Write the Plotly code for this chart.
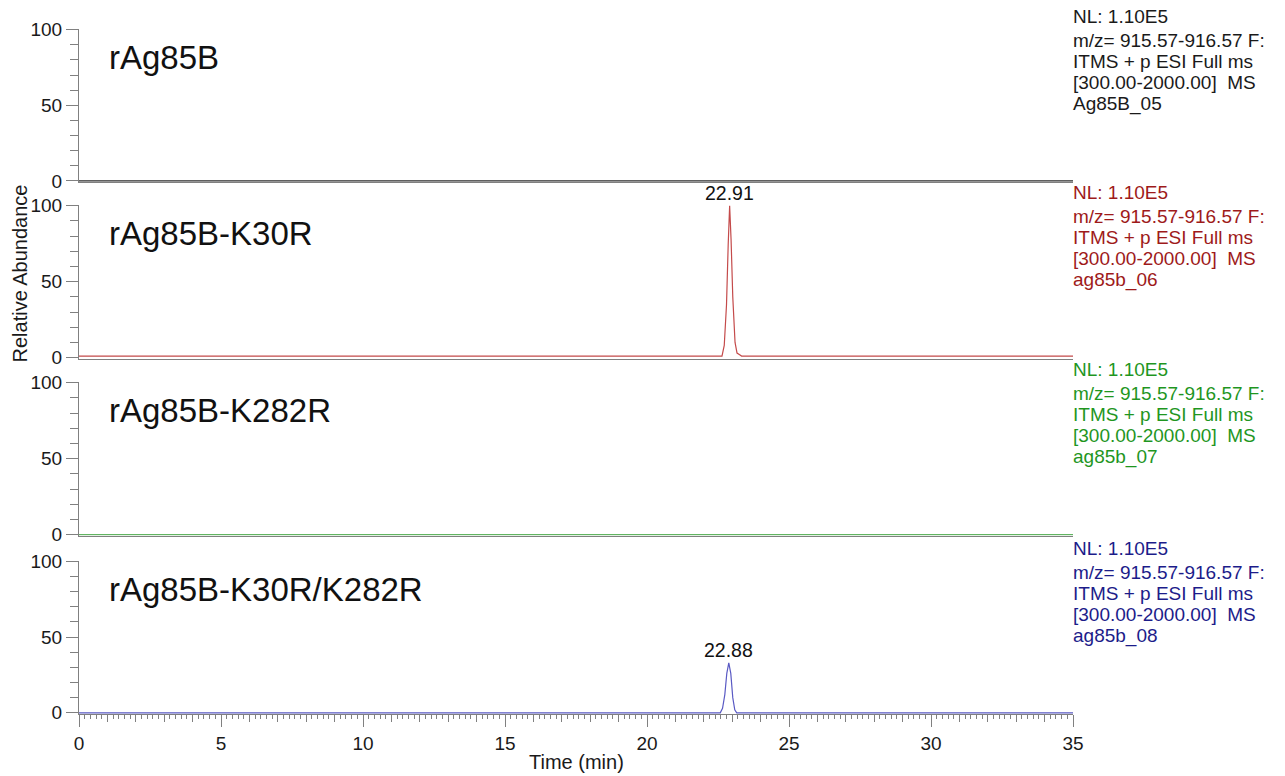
import plotly.graph_objects as go

# ---------------- data ----------------
sample_names = ["rAg85B", "rAg85B-K30R", "rAg85B-K282R", "rAg85B-K30R/K282R"]
file_names = ["Ag85B_05", "ag85b_06", "ag85b_07", "ag85b_08"]
nl_values = ["1.10E5", "1.10E5", "1.10E5", "1.10E5"]
scan_filter = ["m/z= 915.57-916.57 F:", "ITMS + p ESI Full ms", "[300.00-2000.00]  MS"]

time_1 = [0.0, 35.0]
abund_1 = [0, 0]

time_2 = [0.0, 22.64, 22.72, 22.80, 22.86, 22.91, 22.96, 23.02, 23.10, 23.17, 23.25, 23.33, 35.0]
abund_2 = [1, 1, 8, 35, 75, 100, 78, 40, 10, 3, 2, 1, 1]

time_3 = [0.0, 35.0]
abund_3 = [0, 0]

time_4 = [0.0, 22.58, 22.66, 22.74, 22.81, 22.88, 22.95, 23.02, 23.09, 23.16, 35.0]
abund_4 = [0, 0, 3, 12, 26, 33, 26, 10, 2, 0, 0]

labelled_peaks = [False, True, False, True]

x_ticks = [0, 5, 10, 15, 20, 25, 30, 35]
y_ticks = [0, 50, 100]

# ---------------- style ----------------
FONT = "Liberation Sans, Arial, sans-serif"
line_colors = ["#2a2a2a", "#c44a4a", "#62b462", "#5a5ac4"]
text_colors = ["#1a1a1a", "#9e1a1a", "#1f961f", "#1c1c8a"]
AXIS_GRAY = "#808080"
domains = [[0.7765, 1.0], [0.5185, 0.7431], [0.2601, 0.4848], [0.0, 0.2239]]
info_offsets = [12.1, -11.9, -32.9, -53.9, -74.9]

series = [(time_1, abund_1), (time_2, abund_2), (time_3, abund_3), (time_4, abund_4)]


def sfx(n):
    return "" if n == 1 else str(n)


fig = go.Figure()
for i, (t, v) in enumerate(series):
    n = i + 1
    fig.add_trace(go.Scatter(
        x=t, y=v, mode="lines",
        line=dict(color=line_colors[i], width=1.2),
        xaxis=f"x{sfx(n)}", yaxis=f"y{sfx(n)}", showlegend=False, hoverinfo="skip",
    ))

# invisible trace for the micro-tick overlay axis
fig.add_trace(go.Scatter(x=[], y=[], xaxis="x5", yaxis="y4", showlegend=False, hoverinfo="skip"))

layout = dict(
    width=1285, height=776,
    margin=dict(l=79, r=212, t=28.5, b=61.5, autoexpand=False),
    paper_bgcolor="white", plot_bgcolor="white",
    font=dict(family=FONT, color="#1a1a1a", size=18),
    showlegend=False,
)

for i in range(4):
    n = i + 1
    xa = dict(
        domain=[0, 1], range=[0, 35], anchor=f"y{sfx(n)}",
        showline=True, linecolor=AXIS_GRAY, linewidth=1, automargin=False,
        showgrid=False, zeroline=False, fixedrange=True, layer="below traces",
    )
    if n < 4:
        xa.update(matches="x4", showticklabels=False, ticks="")
    else:
        xa.update(
            tickmode="array", tickvals=x_ticks, ticktext=[str(v) for v in x_ticks],
            ticks="outside", ticklen=12, tickcolor=AXIS_GRAY, tickwidth=1,
            tickfont=dict(size=19, family=FONT, color="#1a1a1a"),
            minor=dict(dtick=1, tick0=0, ticks="outside", ticklen=7, tickcolor=AXIS_GRAY, tickwidth=1),
        )
    layout[f"xaxis{sfx(n)}"] = xa
    layout[f"yaxis{sfx(n)}"] = dict(
        domain=domains[i], range=[-0.8, 100.5], anchor=f"x{sfx(n)}",
        showline=True, linecolor=AXIS_GRAY, linewidth=1, automargin=False,
        showgrid=False, zeroline=False, fixedrange=True, layer="below traces",
        tickmode="array", tickvals=y_ticks, ticktext=[str(v) for v in y_ticks],
        ticks="outside", ticklen=12, tickcolor=AXIS_GRAY, tickwidth=1,
        tickfont=dict(size=19, family=FONT, color="#1a1a1a"),
        minor=dict(dtick=10, tick0=0, ticks="outside", ticklen=8, tickcolor=AXIS_GRAY, tickwidth=1),
    )

layout["xaxis5"] = dict(
    overlaying="x4", anchor="y4", range=[0, 35], side="bottom",
    tickmode="linear", tick0=0, dtick=0.2, ticks="outside", ticklen=4,
    tickcolor=AXIS_GRAY, tickwidth=1, showticklabels=False, automargin=False,
    showline=False, showgrid=False, zeroline=False, fixedrange=True,
)

fig.update_layout(**layout)

annotations = []
for i in range(4):
    n = i + 1
    # sample name
    annotations.append(dict(
        text=sample_names[i], xref=f"x{sfx(n)} domain", yref=f"y{sfx(n)} domain",
        x=0.028, y=0.815, xanchor="left", yanchor="middle", showarrow=False,
        font=dict(size=33, family=FONT, color="#111111"),
    ))
    # right-side info block, one line per annotation
    lines = [f"NL: {nl_values[i]}"] + scan_filter + [file_names[i]]
    for j, txt in enumerate(lines):
        annotations.append(dict(
            text=txt, xref="paper", yref=f"y{sfx(n)} domain",
            x=1.0, y=1.0, xanchor="left", yanchor="middle",
            xshift=-2, yshift=info_offsets[j],
            align="left", showarrow=False,
            font=dict(size=19, family=FONT, color=text_colors[i]),
        ))
    # peak label
    if labelled_peaks[i]:
        t, v = series[i]
        k = max(range(len(v)), key=lambda j: v[j])
        annotations.append(dict(
            text=f"{t[k]:.2f}", xref=f"x{sfx(n)}", yref=f"y{sfx(n)}",
            x=t[k], y=v[k], xanchor="center", yanchor="bottom", yshift=0,
            showarrow=False, font=dict(size=19.5, family=FONT, color="#111111"),
        ))

annotations.append(dict(
    text="Relative Abundance", xref="paper", yref="paper",
    x=-0.0594, y=0.643, xanchor="center", yanchor="middle", textangle=-90,
    showarrow=False, font=dict(size=20, family=FONT, color="#1a1a1a"),
))
annotations.append(dict(
    text="Time (min)", xref="paper", yref="paper",
    x=0.5, y=0, xanchor="center", yanchor="middle", yshift=-48,
    showarrow=False, font=dict(size=20, family=FONT, color="#1a1a1a"),
))

fig.update_layout(annotations=annotations)
fig.write_html(
    "out.html",
    config={"displayModeBar": False},
    post_script="document.body.style.margin='0';document.body.style.overflow='hidden';",
)
